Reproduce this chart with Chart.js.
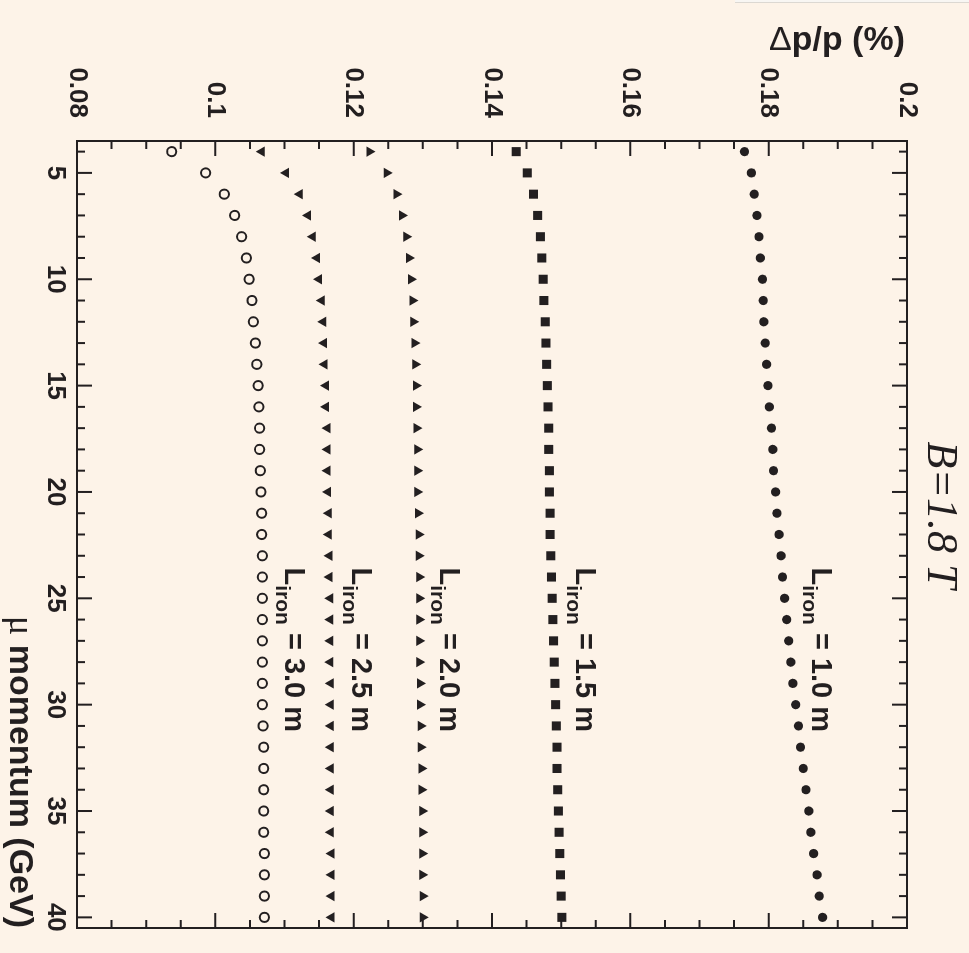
<!DOCTYPE html>
<html>
<head>
<meta charset="utf-8">
<script src="https://cdn.jsdelivr.net/npm/chart.js@4/dist/chart.umd.min.js"></script>
<style>
    html, body { margin: 0; padding: 0; background: #fdf3e8; overflow: hidden; }
    #wrap {
        position: absolute; left: 0; top: 0;
        width: 953px; height: 969px;
        transform-origin: 0 0;
        transform: translateX(969px) rotate(90deg);
    }
    #strip {
        position: absolute; left: 735px; top: 0;
        width: 234px; height: 2px;
        background: #f8f6f3; border-bottom: 1px solid #dcd8d2;
    }
</style>
</head>
<body>
<div id="wrap"><canvas id="chart1" width="953" height="969"></canvas></div>
<div id="strip"></div>
<script>
// momentum points (GeV)
const momentum = [4, 5, 6, 7, 8, 9, 10, 11, 12, 13, 14, 15, 16, 17, 18, 19, 20, 21, 22,
    23, 24, 25, 26, 27, 28, 29, 30, 31, 32, 33, 34, 35, 36, 37, 38, 39, 40];

// dp/p (%) for each iron length
const iron10 = [0.1765, 0.1775, 0.1779, 0.1783, 0.1786, 0.1788, 0.1791, 0.1792, 0.1793, 0.1795,
    0.1797, 0.1799, 0.1801, 0.1804, 0.1806, 0.1807, 0.1810, 0.1812, 0.1815, 0.1818, 0.1820,
    0.1823, 0.1826, 0.1829, 0.1832, 0.1835, 0.1839, 0.1843, 0.1846, 0.1850, 0.1854, 0.1858,
    0.1861, 0.1865, 0.1870, 0.1873, 0.1878];
const iron15 = [0.1435, 0.1451, 0.1460, 0.1466, 0.1470, 0.1472, 0.1474, 0.1475, 0.1477, 0.1478,
    0.1479, 0.1480, 0.1481, 0.1482, 0.1482, 0.1483, 0.1483, 0.1484, 0.1484, 0.1485, 0.1486,
    0.1487, 0.1488, 0.1489, 0.1490, 0.1491, 0.1492, 0.1493, 0.1494, 0.1494, 0.1495, 0.1496,
    0.1497, 0.1498, 0.1499, 0.1500, 0.1501];
const iron20 = [0.1223, 0.1248, 0.1262, 0.1270, 0.1276, 0.1280, 0.1283, 0.1285, 0.1286, 0.1288,
    0.1289, 0.1290, 0.1290, 0.1291, 0.1292, 0.1292, 0.1292, 0.1293, 0.1294, 0.1294, 0.1295,
    0.1295, 0.1295, 0.1295, 0.1295, 0.1296, 0.1296, 0.1297, 0.1297, 0.1298, 0.1298, 0.1299,
    0.1299, 0.1299, 0.1299, 0.1300, 0.1300];
const iron25 = [0.1067, 0.1102, 0.1122, 0.1134, 0.1141, 0.1147, 0.1150, 0.1154, 0.1156, 0.1157,
    0.1158, 0.1160, 0.1160, 0.1162, 0.1162, 0.1162, 0.1163, 0.1164, 0.1164, 0.1165, 0.1165,
    0.1166, 0.1166, 0.1166, 0.1166, 0.1167, 0.1167, 0.1167, 0.1167, 0.1167, 0.1167, 0.1167,
    0.1167, 0.1168, 0.1168, 0.1168, 0.1168];
const iron30 = [0.0937, 0.0986, 0.1013, 0.1028, 0.1038, 0.1045, 0.1049, 0.1053, 0.1055, 0.1058,
    0.1060, 0.1062, 0.1063, 0.1064, 0.1064, 0.1065, 0.1066, 0.1067, 0.1067, 0.1068, 0.1068,
    0.1068, 0.1068, 0.1068, 0.1068, 0.1068, 0.1068, 0.1069, 0.1070, 0.1070, 0.1070, 0.1070,
    0.1070, 0.1071, 0.1071, 0.1071, 0.1071];

const ironLabels = ['1.0', '1.5', '2.0', '2.5', '3.0'];

// tick labels
const xTicks = [5, 10, 15, 20, 25, 30, 35, 40];
const yTicks = [0.08, 0.1, 0.12, 0.14, 0.16, 0.18, 0.2];
const yTickLabels = ['0.08', '0.1', '0.12', '0.14', '0.16', '0.18', '0.2'];

const ink = '#231f20';
const sans = '"Liberation Sans", Arial, Helvetica, sans-serif';

document.addEventListener('DOMContentLoaded', function () {
    const ctx1 = document.getElementById('chart1').getContext('2d');

    function toPoints(vals) {
        return momentum.map((m, i) => ({ x: m, y: vals[i] }));
    }

    // where the curve labels sit, in data units (momentum, dp/p at baseline)
    const labelPos = [[23.55, 0.1863], [23.55, 0.1521], [23.55, 0.1325], [23.55, 0.1198], [23.55, 0.1101]];

    const frame = {
        id: 'frame',
        afterDatasetsDraw(chart) {
            const { ctx, chartArea: a, scales: { x, y } } = chart;
            ctx.save();
            ctx.strokeStyle = ink;
            ctx.lineWidth = 2;
            ctx.strokeRect(a.left, a.top, a.right - a.left, a.bottom - a.top);
            ctx.beginPath();
            for (let m = 4; m <= 40; m++) {
                const px = x.getPixelForValue(m);
                const len = m % 5 === 0 ? 15 : 8;
                ctx.moveTo(px, a.bottom); ctx.lineTo(px, a.bottom - len);
                ctx.moveTo(px, a.top); ctx.lineTo(px, a.top + len);
            }
            for (let i = 1; i < 24; i++) {
                const py = y.getPixelForValue(0.08 + i * 0.005);
                const len = i % 4 === 0 ? 15 : 8;
                ctx.moveTo(a.left, py); ctx.lineTo(a.left + len, py);
                ctx.moveTo(a.right, py); ctx.lineTo(a.right - len, py);
            }
            ctx.stroke();
            ctx.restore();
        },
        afterDraw(chart) {
            const { ctx, chartArea: a, scales: { x, y } } = chart;
            ctx.save();
            ctx.fillStyle = ink;
            ctx.textBaseline = 'alphabetic';

            // curve labels: L_iron = ... m
            labelPos.forEach((p, i) => {
                let px = x.getPixelForValue(p[0]);
                const py = y.getPixelForValue(p[1]);
                ctx.textAlign = 'left';
                ctx.font = 'bold 29px ' + sans;
                ctx.fillText('L', px, py);
                px += ctx.measureText('L').width;
                ctx.font = 'bold 21px ' + sans;
                ctx.fillText('iron', px, py + 9);
                px += ctx.measureText('iron').width;
                ctx.font = 'bold 29px ' + sans;
                ctx.fillText(' = ' + ironLabels[i] + ' m', px, py);
            });

            // field
            ctx.font = 'italic 44px "Liberation Serif", "Times New Roman", serif';
            ctx.fillText('B=1.8 T', x.getPixelForValue(17.63), y.getPixelForValue(0.2031));

            // x title, right aligned at frame end
            ctx.textAlign = 'right';
            ctx.font = 'bold 34px ' + sans;
            const rest = ' momentum (GeV)';
            const wRest = ctx.measureText(rest).width;
            ctx.fillText(rest, a.right, 959);
            ctx.font = '36px "Liberation Serif", serif';
            ctx.fillText('\u03bc', a.right - wRest, 959);

            // y title, rotated, ends at top of axis
            ctx.translate(50, a.top + 2);
            ctx.rotate(-Math.PI / 2);
            ctx.font = 'bold 34px ' + sans;
            ctx.fillText('p/p (%)', 0, 0);
            const wp = ctx.measureText('p/p (%)').width;
            ctx.font = '34px ' + sans;
            ctx.fillText('\u0394', -wp, 0);
            ctx.restore();
        }
    };

    const tickFont = { family: sans, size: 26, weight: 'bold' };

    function fixBox(s) {
        s.paddingLeft = 0; s.paddingRight = 0; s.paddingTop = 0; s.paddingBottom = 0;
    }

    new Chart(ctx1, {
        type: 'scatter',
        data: {
            datasets: [{
                label: 'L = 1.0 m',
                data: toPoints(iron10),
                pointStyle: 'circle',
                pointRadius: 4.6,
                backgroundColor: ink,
                borderWidth: 0
            }, {
                label: 'L = 1.5 m',
                data: toPoints(iron15),
                pointStyle: 'rect',
                pointRadius: 6.4,
                backgroundColor: ink,
                borderWidth: 0
            }, {
                label: 'L = 2.0 m',
                data: toPoints(iron20),
                pointStyle: 'triangle',
                pointRadius: 6,
                backgroundColor: ink,
                borderWidth: 0
            }, {
                label: 'L = 2.5 m',
                data: toPoints(iron25),
                pointStyle: 'triangle',
                pointRotation: 180,
                pointRadius: 6,
                backgroundColor: ink,
                borderWidth: 0
            }, {
                label: 'L = 3.0 m',
                data: toPoints(iron30),
                pointStyle: 'circle',
                pointRadius: 4.6,
                backgroundColor: 'rgba(0,0,0,0)',
                borderColor: ink,
                borderWidth: 2
            }]
        },
        options: {
            responsive: false,
            animation: false,
            devicePixelRatio: 1,
            layout: { padding: { top: 62, right: 25, left: 0, bottom: 0 } },
            plugins: { legend: { display: false }, tooltip: { enabled: false } },
            scales: {
                x: {
                    type: 'linear',
                    min: 3.5,
                    max: 40.5,
                    afterBuildTicks: s => { s.ticks = xTicks.map(v => ({ value: v })); },
                    afterFit: s => { s.height = 77; fixBox(s); },
                    grid: { display: false, drawTicks: false },
                    border: { display: false },
                    ticks: { font: tickFont, color: ink, padding: 6, maxRotation: 0, autoSkip: false,
                        callback: v => String(v) }
                },
                y: {
                    type: 'linear',
                    min: 0.08,
                    max: 0.2,
                    afterBuildTicks: s => { s.ticks = yTicks.map(v => ({ value: v })); },
                    afterFit: s => { s.width = 141; fixBox(s); },
                    grid: { display: false, drawTicks: false },
                    border: { display: false },
                    ticks: { font: tickFont, color: ink, padding: 23, autoSkip: false,
                        callback: (v, i) => yTickLabels[i] }
                }
            }
        },
        plugins: [frame]
    });
});
</script>
</body>
</html>
